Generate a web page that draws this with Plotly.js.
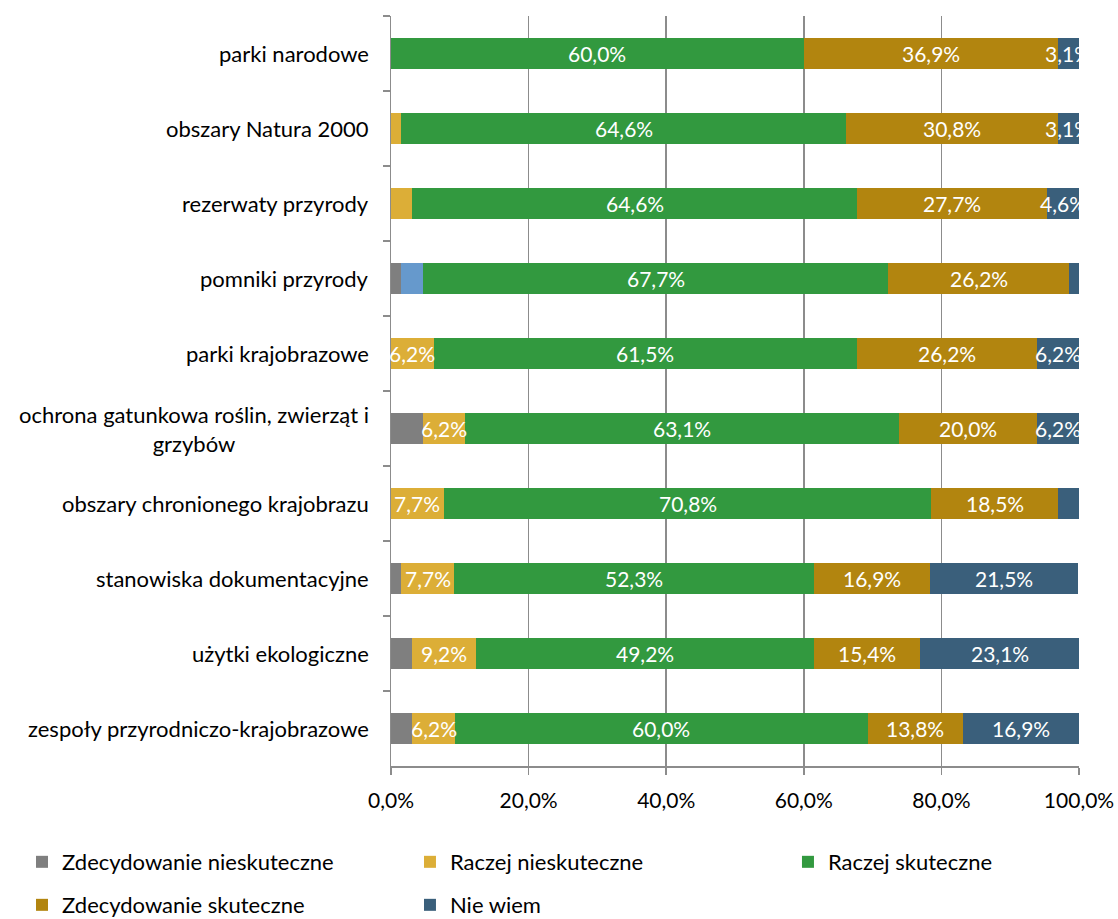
<!DOCTYPE html>
<html>
<head>
<meta charset="utf-8">
<script src="https://cdn.plot.ly/plotly-3.0.1.min.js"></script>
<style>html,body{margin:0;padding:0;background:#fff;}#chart{width:1118px;height:919px;}</style>
</head>
<body>
<div id="chart"></div>
<script>
const categories = [
  "parki narodowe",
  "obszary Natura 2000",
  "rezerwaty przyrody",
  "pomniki przyrody",
  "parki krajobrazowe",
  "ochrona gatunkowa roślin, zwierząt i<br>grzybów",
  "obszary chronionego krajobrazu",
  "stanowiska dokumentacyjne",
  "użytki ekologiczne",
  "zespoły przyrodniczo-krajobrazowe"
];
const seriesNames = ["Zdecydowanie nieskuteczne","Raczej nieskuteczne","Raczej skuteczne","Zdecydowanie skuteczne","Nie wiem"];
const zdecNieskuteczne = [0, 0, 0, 1.5, 0, 4.6, 0, 1.5, 3.1, 3.1];
const raczejNieskuteczne = [0, 1.5, 3.1, 3.1, 6.2, 6.2, 7.7, 7.7, 9.2, 6.2];
const raczejSkuteczne = [60.0, 64.6, 64.6, 67.7, 61.5, 63.1, 70.8, 52.3, 49.2, 60.0];
const zdecSkuteczne = [36.9, 30.8, 27.7, 26.2, 26.2, 20.0, 18.5, 16.9, 15.4, 13.8];
const nieWiem = [3.1, 3.1, 4.6, 1.5, 6.2, 6.2, 3.1, 21.5, 23.1, 16.9];
// which segments carry a visible data label in the original
const labelShown = [
  [0,0,0,0,0,0,0,0,0,0],
  [0,0,0,0,1,1,1,1,1,1],
  [1,1,1,1,1,1,1,1,1,1],
  [1,1,1,1,1,1,1,1,1,1],
  [1,1,1,0,1,1,0,1,1,1]
];
const xTicks = [0, 20, 40, 60, 80, 100];

const allSeries = [zdecNieskuteczne, raczejNieskuteczne, raczejSkuteczne, zdecSkuteczne, nieWiem];
const colors = ["#7f7f7f", "#DCAE37", "#32993F", "#B2850F", "#3A5F7B"];
const highlightColor = "#6699CC";

// legend placement (container fractions): [x, y]
const legendPos = [[0.0197, 0.062], [0.3667, 0.062], [0.7048, 0.062], [0.0197, 0.0152], [0.3667, 0.0152]];

const font = "Lato, 'Open Sans', sans-serif";
const legendKeys = ["legend", "legend2", "legend3", "legend4", "legend5"];
const traces = allSeries.map((vals, i) => {
  let mc = colors[i];
  if (i === 1) {
    mc = categories.map(c => c === "pomniki przyrody" ? highlightColor : colors[1]);
  }
  return {
    type: "bar",
    orientation: "h",
    name: seriesNames[i],
    y: categories,
    x: vals,
    marker: {color: mc, line: {width: 0}},
    hoverinfo: "skip",
    legend: legendKeys[i]
  };
});

const fmt = v => v.toFixed(1).replace(".", ",") + "%";
const annotations = [];
categories.forEach((cat, ci) => {
  let cum = 0;
  allSeries.forEach((vals, si) => {
    const v = vals[ci];
    if (labelShown[si][ci] && v > 0) {
      annotations.push({
        xref: "x", yref: "y", x: cum + v / 2, y: cat,
        text: fmt(v), showarrow: false,
        font: {family: font, size: 21, color: "#ffffff"}
      });
    }
    cum += v;
  });
  annotations.push({
    xref: "paper", yref: "y", x: 0, y: cat, xanchor: "right", xshift: -20,
    align: "center", text: cat, showarrow: false,
    font: {family: font, size: 22, color: "#000000"}
  });
});

const layout = {
  width: 1118, height: 919,
  margin: {l: 391, r: 39, t: 16, b: 153, autoexpand: false},
  paper_bgcolor: "#ffffff", plot_bgcolor: "#ffffff",
  barmode: "stack",
  bargap: 0.59,
  font: {family: font, size: 21, color: "#000000"},
  xaxis: {
    range: [0, 100],
    tickvals: xTicks,
    ticktext: xTicks.map(fmt),
    tickangle: 0,
    showgrid: true, gridcolor: "#8c8c8c", gridwidth: 1.5,
    zeroline: false,
    showline: true, linecolor: "#8c8c8c", linewidth: 1.5,
    ticks: "outside", ticklen: 7, tickcolor: "#8c8c8c", tickwidth: 1.5,
    ticklabelstandoff: 8,
    tickfont: {family: font, size: 21, color: "#000"},
    fixedrange: true
  },
  yaxis: {
    type: "category",
    autorange: "reversed",
    showticklabels: false,
    showgrid: false, zeroline: false,
    showline: true, linecolor: "#8c8c8c", linewidth: 1.5,
    ticks: "outside", ticklen: 7, tickcolor: "#8c8c8c", tickwidth: 1.5,
    tickson: "boundaries",
    fixedrange: true
  },
  showlegend: true,
  annotations: annotations
};
legendKeys.forEach((k, i) => {
  layout[k] = {
    xref: "container", yref: "container",
    x: legendPos[i][0], y: legendPos[i][1], xanchor: "left", yanchor: "middle",
    orientation: "v", bgcolor: "rgba(0,0,0,0)",
    font: {family: font, size: 22, color: "#000"}
  };
});

Plotly.newPlot("chart", traces, layout, {displayModeBar: false, staticPlot: true});
</script>
</body>
</html>
